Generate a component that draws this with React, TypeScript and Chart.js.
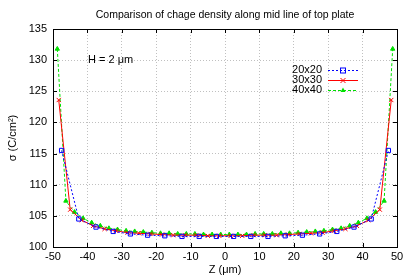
import React, { useEffect, useRef } from "react";
import { Chart, registerables } from "chart.js";

Chart.register(...registerables);

const TITLE = "Comparison of chage density along mid line of top plate";
const X_TITLE = "Z (\u03bcm)";
const Y_TITLE = "\u03c3 (C/cm\u00b2)";
const NOTE = "H = 2 \u03bcm";

const Z20 = [-47.5, -42.5, -37.5, -32.5, -27.5, -22.5, -17.5, -12.5, -7.5, -2.5, 2.5, 7.5, 12.5, 17.5, 22.5, 27.5, 32.5, 37.5, 42.5, 47.5];
const S20 = [115.5, 104.5, 103.2, 102.5, 102.1, 101.9, 101.8, 101.7, 101.7, 101.7, 101.7, 101.7, 101.7, 101.8, 101.9, 102.1, 102.5, 103.2, 104.5, 115.5];

const Z30 = [-48.33, -45, -41.67, -38.33, -35, -31.67, -28.33, -25, -21.67, -18.33, -15, -11.67, -8.33, -5, -1.67, 1.67, 5, 8.33, 11.67, 15, 18.33, 21.67, 25, 28.33, 31.67, 35, 38.33, 41.67, 45, 48.33];
const S30 = [123.6, 106.0, 104.3, 103.4, 102.9, 102.6, 102.3, 102.2, 102.1, 102.0, 101.9, 101.9, 101.9, 101.8, 101.8, 101.8, 101.8, 101.9, 101.9, 101.9, 102.0, 102.1, 102.2, 102.3, 102.6, 102.9, 103.4, 104.3, 106.0, 123.6];

const Z40 = [-48.75, -46.25, -43.75, -41.25, -38.75, -36.25, -33.75, -31.25, -28.75, -26.25, -23.75, -21.25, -18.75, -16.25, -13.75, -11.25, -8.75, -6.25, -3.75, -1.25, 1.25, 3.75, 6.25, 8.75, 11.25, 13.75, 16.25, 18.75, 21.25, 23.75, 26.25, 28.75, 31.25, 33.75, 36.25, 38.75, 41.25, 43.75, 46.25, 48.75];
const S40 = [131.8, 107.4, 105.6, 104.6, 103.9, 103.4, 103.0, 102.8, 102.6, 102.5, 102.4, 102.3, 102.2, 102.2, 102.1, 102.1, 102.1, 102.0, 102.0, 102.0, 102.0, 102.0, 102.0, 102.1, 102.1, 102.1, 102.2, 102.2, 102.3, 102.4, 102.5, 102.6, 102.8, 103.0, 103.4, 103.9, 104.6, 105.6, 107.4, 131.8];

const SERIES_LABELS = ["20x20", "30x30", "40x40"];
const X_MIN = -50, X_MAX = 50, X_STEP = 10;
const Y_MIN = 100, Y_MAX = 135, Y_STEP = 5;

const FONT = "'Liberation Sans', Arial, sans-serif";
const BLUE = "#0000ff";
const RED = "#ff0000";
const GREEN = "#00e000";

const pts = (xs: number[], ys: number[]) => xs.map((x, i) => ({ x, y: ys[i] }));

export default function App() {
  const ref = useRef<HTMLCanvasElement | null>(null);

  useEffect(() => {
    const canvas = ref.current;
    if (!canvas) return;

    const overlay = {
      id: "overlay",
      afterDraw(chart: any) {
        const { ctx, chartArea } = chart;
        const { left, right, top, bottom } = chartArea;
        ctx.save();
        ctx.strokeStyle = "#000";
        ctx.lineWidth = 1;
        ctx.setLineDash([]);
        ctx.strokeRect(Math.round(left) + 0.5, Math.round(top) + 0.5, Math.round(right - left), Math.round(bottom - top));
        const xs = chart.scales.x, ys = chart.scales.y;
        ctx.beginPath();
        for (let v = X_MIN; v <= X_MAX; v += X_STEP) {
          const px = Math.round(xs.getPixelForValue(v)) + 0.5;
          ctx.moveTo(px, bottom); ctx.lineTo(px, bottom - 4);
          ctx.moveTo(px, top); ctx.lineTo(px, top + 4);
        }
        for (let v = Y_MIN; v <= Y_MAX; v += Y_STEP) {
          const py = Math.round(ys.getPixelForValue(v)) + 0.5;
          ctx.moveTo(left, py); ctx.lineTo(left + 4, py);
          ctx.moveTo(right, py); ctx.lineTo(right - 4, py);
        }
        ctx.stroke();
        ctx.fillStyle = "#000";
        ctx.font = `10.5px ${FONT}`;
        ctx.textAlign = "center";
        ctx.textBaseline = "middle";
        ctx.fillText(TITLE, 225, 15);
        ctx.font = `11px ${FONT}`;
        ctx.fillText(X_TITLE, (left + right) / 2, 270);
        ctx.save();
        ctx.translate(13, (top + bottom) / 2);
        ctx.rotate(-Math.PI / 2);
        ctx.fillText(Y_TITLE, 0, 0);
        ctx.restore();
        ctx.textAlign = "left";
        ctx.fillText(NOTE, 88, 60);
        const colors = [BLUE, RED, GREEN];
        const dashes = [[2, 2], [], [3, 2]];
        for (let i = 0; i < 3; i++) {
          const y = 70 + i * 10;
          ctx.fillStyle = "#000";
          ctx.textAlign = "right";
          ctx.fillText(SERIES_LABELS[i], 322, y);
          ctx.strokeStyle = colors[i];
          ctx.setLineDash(dashes[i]);
          ctx.beginPath();
          ctx.moveTo(328, y + 0.5);
          ctx.lineTo(358, y + 0.5);
          ctx.stroke();
          ctx.setLineDash([]);
          const mx = 343;
          ctx.fillStyle = colors[i];
          ctx.beginPath();
          if (i === 0) {
            ctx.strokeRect(mx - 2.5, y - 2, 5, 5);
          } else if (i === 1) {
            ctx.moveTo(mx - 2.5, y - 2); ctx.lineTo(mx + 2.5, y + 3);
            ctx.moveTo(mx + 2.5, y - 2); ctx.lineTo(mx - 2.5, y + 3);
            ctx.stroke();
          } else {
            ctx.moveTo(mx, y - 2.5); ctx.lineTo(mx + 2.5, y + 2); ctx.lineTo(mx - 2.5, y + 2);
            ctx.closePath();
            ctx.fill();
          }
        }
        ctx.restore();
      },
    };

    const chart = new Chart(canvas, {
      type: "line",
      data: {
        datasets: [
          {
            label: SERIES_LABELS[0],
            data: pts(Z20, S20),
            borderColor: BLUE,
            backgroundColor: "rgba(0,0,0,0)",
            borderWidth: 1,
            borderDash: [2, 2],
            pointStyle: "rect",
            pointRadius: 3,
            pointBorderColor: BLUE,
            pointBackgroundColor: "rgba(0,0,0,0)",
            pointBorderWidth: 1,
            tension: 0,
          },
          {
            label: SERIES_LABELS[1],
            data: pts(Z30, S30),
            borderColor: RED,
            backgroundColor: RED,
            borderWidth: 1,
            pointStyle: "crossRot",
            pointRadius: 3,
            pointBorderColor: RED,
            pointBorderWidth: 1,
            tension: 0,
          },
          {
            label: SERIES_LABELS[2],
            data: pts(Z40, S40),
            borderColor: GREEN,
            backgroundColor: GREEN,
            borderWidth: 1,
            borderDash: [3, 2],
            pointStyle: "triangle",
            pointRadius: 2.5,
            pointBorderColor: GREEN,
            pointBackgroundColor: GREEN,
            pointBorderWidth: 1,
            tension: 0,
          },
        ],
      },
      options: {
        animation: false,
        responsive: false,
        maintainAspectRatio: false,
        layout: { padding: { left: 0, right: 18, top: 29, bottom: 0 } },
        plugins: { legend: { display: false }, title: { display: false }, tooltip: { enabled: false } },
        scales: {
          x: {
            type: "linear",
            min: X_MIN,
            max: X_MAX,
            afterFit: (s: any) => { s.height = 30; },
            ticks: { stepSize: X_STEP, color: "#000", font: { family: FONT, size: 11 }, padding: 3, maxRotation: 0 },
            grid: { color: "#c0c0c0", drawTicks: false, tickLength: 0 },
            border: { display: false, dash: [1, 2] },
          },
          y: {
            type: "linear",
            min: Y_MIN,
            max: Y_MAX,
            afterFit: (s: any) => { s.width = 53; },
            ticks: { stepSize: Y_STEP, color: "#000", font: { family: FONT, size: 11 }, padding: 6 },
            grid: { color: "#c0c0c0", drawTicks: false, tickLength: 0 },
            border: { display: false, dash: [1, 2] },
          },
        },
      },
      plugins: [overlay],
    } as any);

    return () => chart.destroy();
  }, []);

  return (
    <div style={{ position: "fixed", left: 0, top: 0, width: 415, height: 277, background: "#fff" }}>
      <canvas ref={ref} width={415} height={277} style={{ width: 415, height: 277 }} />
    </div>
  );
}
